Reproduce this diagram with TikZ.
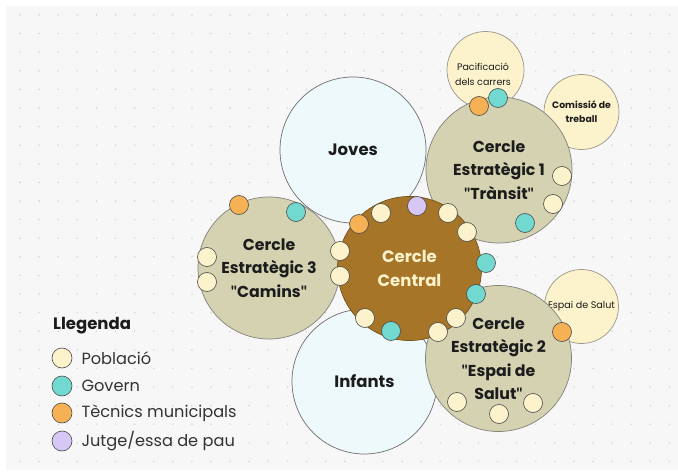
\documentclass[tikz,border=0pt]{standalone}
\usepackage{fontspec}
\setmainfont{Poppins}
\newfontfamily\cometafont{Lato}
\usetikzlibrary{positioning}

\definecolor{fons}{HTML}{F7F7F7}
\definecolor{puntgris}{HTML}{D6D6D6}
\definecolor{cel}{HTML}{EEF9FB}
\definecolor{caqui}{HTML}{D4D2B1}
\definecolor{marro}{HTML}{A67527}
\definecolor{crema}{HTML}{FCF2CB}
\definecolor{turq}{HTML}{72D9D0}
\definecolor{taronja}{HTML}{F6B154}
\definecolor{lila}{HTML}{D7C7F4}
\definecolor{vora}{HTML}{6E6E6E}
\definecolor{negre}{HTML}{1C1C1C}

\newcommand\cometa{{\cometafont\symbol{34}}}

\begin{document}
\begin{tikzpicture}[x=1pt, y=-1pt,
    grup/.style={circle, draw=vora, line width=0.7pt, fill=cel, minimum size=146pt, inner sep=0pt,
      align=center, text=negre, font=\bfseries\fontsize{16.5}{23.5}\selectfont},
    estrat/.style={grup, fill=caqui, draw=vora!80!caqui, font=\bfseries\fontsize{15.8}{23.5}\selectfont},
    satel/.style={circle, draw=vora!70!crema, line width=0.7pt, fill=crema, minimum size=75pt, inner sep=0pt},
    petit/.style={align=center, text=negre, font=\fontsize{9.5}{14.5}\selectfont},
    punt/.style={circle, draw=negre!80, line width=0.6pt, minimum size=19pt, inner sep=0pt},
    pob/.style={punt, fill=crema},
    gov/.style={punt, fill=turq},
    tec/.style={punt, fill=taronja},
    jut/.style={punt, fill=lila},
    lleg/.style={right=7pt of #1, inner sep=2pt, text=negre!90, font=\fontsize{16.2}{18}\selectfont}]

  \useasboundingbox (0,0) rectangle (678,476);
  \fill[fons] (6,6) rectangle (678,470);
  \foreach \i in {0,...,34}
    \foreach \j in {0,...,24}
      \fill[puntgris] (20+\i*19.1, 15+\j*18.6) circle (0.9pt);

  % grups
  \node[grup] (joves) at (353,150) {Joves};
  \node[grup, minimum size=145pt] (infants) at (364.5,381.5) {Infants};

  % cercles satel.lit
  \node[satel, minimum size=77pt] (pacif) at (485.5,70) {};
  \node[petit] (pacif-t) at (483,74.5) {Pacificació\\dels carrers};
  \node[satel, minimum size=75pt] (comis) at (581.5,112) {};
  \node[petit, font=\bfseries\fontsize{9.3}{14}\selectfont] (comis-t) at (comis) {Comissió de\\treball};
  \node[satel, minimum size=74pt] (salut) at (581.5,306.5) {};
  \node[petit, font=\fontsize{9.6}{12}\selectfont] (salut-t) at (salut) {Espai de Salut};

  % cercles estrategics
  \node[estrat] (ce1) at (499,170) {Cercle\\Estratègic 1\\\cometa Trànsit\cometa};
  \node[estrat] (ce2) at (498.5,358.5) {Cercle\\Estratègic 2\\\cometa Espai de\\Salut\cometa};
  \node[estrat, minimum size=142pt] (ce3) at (269,268) {Cercle\\Estratègic 3\\\cometa Camins\cometa};
  \node[estrat, fill=marro, draw=marro!70!black, text=crema, minimum size=144pt,
    font=\bfseries\fontsize{16.5}{23.5}\selectfont] (central) at (409.5,268.5) {Cercle\\Central};

  % persones
  \node[tec] (pa1) at (479,106) {};
  \node[gov] (pa2) at (498,98) {};
  \node[pob] (c1a) at (562,176) {};
  \node[pob] (c1b) at (553,204) {};
  \node[gov] (c1c) at (525,223) {};

  \node[tec] (c3a) at (239,205) {};
  \node[gov] (c3b) at (296,212) {};
  \node[pob] (c3c) at (207,257) {};
  \node[pob] (c3d) at (207,282) {};

  \node[pob] (c2a) at (457,402) {};
  \node[pob] (c2b) at (499,414) {};
  \node[pob] (c2c) at (533,403) {};
  \node[tec] (sa1) at (562,332) {};

  \node[tec] (ct1) at (359,224) {};
  \node[pob] (ct2) at (381,213) {};
  \node[jut] (ct3) at (417,206) {};
  \node[pob] (ct4) at (448,213) {};
  \node[pob] (ct5) at (467,232) {};
  \node[gov] (ct6) at (486,263) {};
  \node[gov] (ct7) at (476,294) {};
  \node[pob] (ct8) at (456,318) {};
  \node[pob] (ct9) at (438,332) {};
  \node[gov] (ct10) at (391,331) {};
  \node[pob] (ct11) at (365,318) {};
  \node[pob] (ct12) at (340,251) {};
  \node[pob] (ct13) at (340,276) {};

  % llegenda
  \node[anchor=west, inner sep=0pt, text=negre, font=\bfseries\fontsize{16.5}{18}\selectfont] (llegenda) at (53,326) {Llegenda};
  \node[pob, minimum size=20pt] (lg1) at (62,358) {};
  \node[gov, minimum size=20pt] (lg2) at (62,386) {};
  \node[tec, minimum size=20pt] (lg3) at (62,413) {};
  \node[jut, minimum size=20pt] (lg4) at (62,441) {};
  \node[lleg=lg1] (lt1) {Població};
  \node[lleg=lg2] (lt2) {Govern};
  \node[lleg=lg3] (lt3) {Tècnics municipals};
  \node[lleg=lg4] (lt4) {Jutge/essa de pau};
\end{tikzpicture}
\end{document}
